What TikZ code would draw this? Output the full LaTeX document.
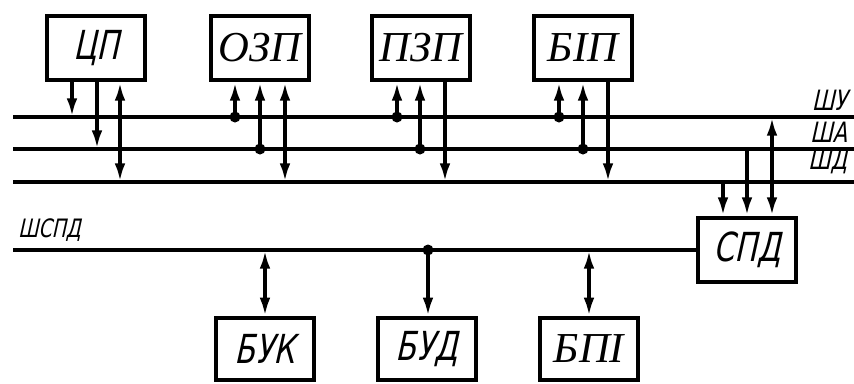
\documentclass[tikz,border=0pt]{standalone}
\usepackage{fontspec}
\usetikzlibrary{arrows.meta}
\newfontfamily\gostfont[FakeSlant=0.22,FakeStretch=0.75]{DejaVu Sans}
\newfontfamily\serfont{Liberation Serif}

\begin{document}
\begin{tikzpicture}[x=0.75pt,y=0.75pt,yscale=-1,xscale=1,line width=3pt,
  blok/.style={draw, line width=3pt, minimum width=73pt, minimum height=48pt, inner sep=0pt},
  gost/.style={font=\gostfont\fontsize{30}{30}\selectfont},
  kurs/.style={font=\serfont\itshape\fontsize{32}{32}\selectfont},
  mitka/.style={font=\gostfont\fontsize{21}{21}\selectfont, inner sep=0.75pt},
  pil/.style={-{Latex[length=14pt,width=8pt]}},
  dpil/.style={{Latex[length=14pt,width=8pt]}-{Latex[length=14pt,width=8pt]}}]
\useasboundingbox (0,0) rectangle (854,383);

% Buses
\coordinate (shu) at (13,117);
\coordinate (sha) at (13,149);
\coordinate (shd) at (13,182);
\coordinate (shspd) at (13,250);
\draw (shu) -- (854,117);
\draw (sha) -- (854,149);
\draw (shd) -- (854,182);

% Blocks (top)
\draw (96,48) node [blok, gost] (cp) {ЦП};
\draw (260,48) node [blok, kurs] (ozp) {ОЗП};
\draw (421,48) node [blok, kurs] (pzp) {ПЗП};
\draw (583,48) node [blok, kurs] (bip) {БІП};
% Blocks (bottom)
\draw (747,250) node [blok, gost] (spd) {СПД};
\draw (265,349) node [blok, gost, minimum height=46pt] (buk) {БУК};
\draw (427,349) node [blok, gost, minimum height=46pt] (bud) {БУД};
\draw (589,349) node [blok, kurs, minimum height=46pt] (bpi) {БПІ};

\draw (shspd) -- (spd.west);

% Text Node
\draw (850,113) node [anchor=south east] [mitka] (lshu) {ШУ};
% Text Node
\draw (850,145) node [anchor=south east] [mitka] (lsha) {ША};
% Text Node
\draw (850,177) node [anchor=south east] [mitka] (lshd) {ШД};
% Text Node
\draw (15,244) node [anchor=south west] [mitka, font=\gostfont\fontsize{19}{19}\selectfont] (lshspd) {ШСПД};

% CP
\draw [pil] (cp.south -| 72,0) -- (72,0 |- shu);
\draw [pil] (cp.south -| 97,0) -- (97,0 |- sha);
\draw [dpil] (cp.south -| 120,0) -- (120,0 |- shd);
% OZP
\draw [pil] (235,0 |- shu) -- (ozp.south -| 235,0);
\fill (235,0 |- shu) circle (5.5);
\draw [pil] (260,0 |- sha) -- (ozp.south -| 260,0);
\fill (260,0 |- sha) circle (5.5);
\draw [dpil] (ozp.south -| 285,0) -- (285,0 |- shd);
% PZP
\draw [pil] (397,0 |- shu) -- (pzp.south -| 397,0);
\fill (397,0 |- shu) circle (5.5);
\draw [pil] (420,0 |- sha) -- (pzp.south -| 420,0);
\fill (420,0 |- sha) circle (5.5);
\draw [pil] (pzp.south -| 445,0) -- (445,0 |- shd);
% BIP
\draw [pil] (559,0 |- shu) -- (bip.south -| 559,0);
\fill (559,0 |- shu) circle (5.5);
\draw [pil] (583,0 |- sha) -- (bip.south -| 583,0);
\fill (583,0 |- sha) circle (5.5);
\draw [pil] (bip.south -| 608,0) -- (608,0 |- shd);
% SPD
\draw [pil] (723,0 |- shd) -- (spd.north -| 723,0);
\draw [pil] (747,0 |- sha) -- (spd.north -| 747,0);
\draw [dpil] (772,0 |- shu) -- (spd.north -| 772,0);
% Bottom blocks
\draw [dpil] (265,0 |- shspd) -- (buk.north);
\draw [pil] (428,0 |- shspd) -- (bud.north -| 428,0);
\fill (428,0 |- shspd) circle (5.5);
\draw [dpil] (589,0 |- shspd) -- (bpi.north);

\end{tikzpicture}
\end{document}
